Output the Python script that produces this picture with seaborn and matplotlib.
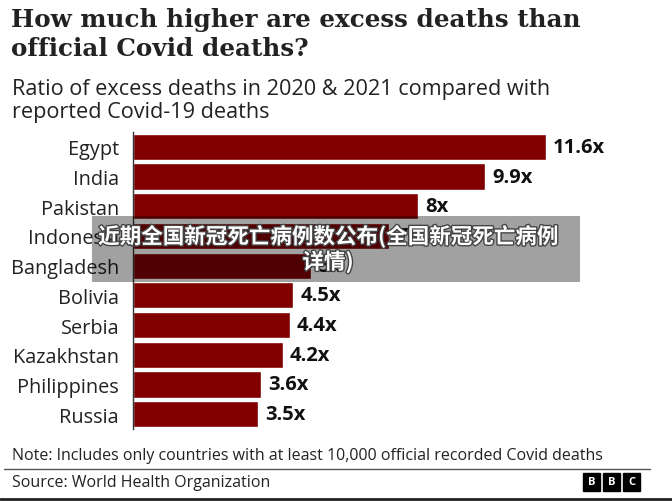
import matplotlib
matplotlib.use("Agg")
import matplotlib.pyplot as plt
import seaborn as sns
import pandas as pd
from matplotlib.patches import Rectangle
from matplotlib.lines import Line2D
import matplotlib.patheffects as pe

# data (Indonesia / Bangladesh labels hidden by overlay)
countries = ["Egypt", "India", "Pakistan", "Indonesia", "Bangladesh",
             "Bolivia", "Serbia", "Kazakhstan", "Philippines", "Russia"]
ratios = [11.6, 9.9, 8.0, 7.2, 5.0, 4.5, 4.4, 4.2, 3.6, 3.5]
labels = ["11.6x", "9.9x", "8x", "7.2x", "5x", "4.5x", "4.4x", "4.2x", "3.6x", "3.5x"]

title = "How much higher are excess deaths than\nofficial Covid deaths?"
subtitle = "Ratio of excess deaths in 2020 & 2021 compared with\nreported Covid-19 deaths"
note = "Note: Includes only countries with at least 10,000 official recorded Covid deaths"
source = "Source: World Health Organization"
overlay_text = "近期全国新冠死亡病例数公布(全国新冠死亡病例\n详情)"

df = pd.DataFrame({"country": countries, "ratio": ratios})

sns.set_theme(style="white")
plt.rcParams["font.family"] = ["Open Sans", "DejaVu Sans"]

W, H = 672, 502
fig = plt.figure(figsize=(W / 100, H / 100), dpi=100)
fig.patch.set_facecolor("white")

# axes placed in pixel terms
ax = fig.add_axes([133 / W, 1 - 430 / H, 507 / W, 297 / H])
sns.barplot(data=df, x="ratio", y="country", orient="h", color="#800000",
            saturation=1, width=0.88, ax=ax)
ax.set_xlim(0, 507 / 35.6)
ax.set_xlabel("")
ax.set_ylabel("")
ax.set_xticks([])
ax.tick_params(axis="y", length=0, pad=10, labelsize=14.3, labelcolor="#222222")
for s in ["top", "right", "bottom"]:
    ax.spines[s].set_visible(False)
ax.spines["left"].set_color("#333333")
ax.spines["left"].set_linewidth(1)

for i, (v, lab) in enumerate(zip(ratios, labels)):
    ax.text(v + 0.2, i, lab, va="center", ha="left", fontsize=14.5,
            fontweight="bold", color="#111111")

# titles
fig.text(11 / W, 1 - 8 / H, title, ha="left", va="top", fontsize=17.7,
         family="DejaVu Serif", fontweight="bold", color="#222222", linespacing=1.28)
fig.text(12 / W, 1 - 79 / H, subtitle, ha="left", va="top", fontsize=15.6,
         color="#222222", linespacing=1.15)

# footer
fig.text(12 / W, 1 - 456 / H, note, ha="left", va="center", fontsize=11.5, color="#222222")
fig.add_artist(Line2D([4 / W, 650 / W], [1 - 470 / H] * 2, color="#555555", lw=1))
fig.text(12 / W, 1 - 483 / H, source, ha="left", va="center", fontsize=11.5, color="#222222")
fig.add_artist(Line2D([0, 1], [1 - 500 / H] * 2, color="#222222", lw=2))
for k, ch in enumerate("BBC"):
    x0 = 583 + k * 20
    fig.add_artist(Rectangle((x0 / W, 1 - 492 / H), 17 / W, 18 / H,
                             transform=fig.transFigure, color="black"))
    fig.text((x0 + 8.5) / W, 1 - 483 / H, ch, ha="center", va="center",
             fontsize=8, fontweight="bold", color="white")

# watermark overlay
fig.add_artist(Rectangle((92 / W, 1 - 283 / H), 488 / W, 66 / H,
                         transform=fig.transFigure, color="black", alpha=0.37, lw=0))
fig.text(328 / W, 1 - 250 / H, overlay_text, ha="center", va="center", fontsize=15.5,
         fontweight="bold", color="white", family=["Noto Sans CJK SC", "DejaVu Sans"],
         linespacing=1.15,
         path_effects=[pe.withStroke(linewidth=2, foreground="#444444")])

fig.savefig("out.png", dpi=100, facecolor="white")
